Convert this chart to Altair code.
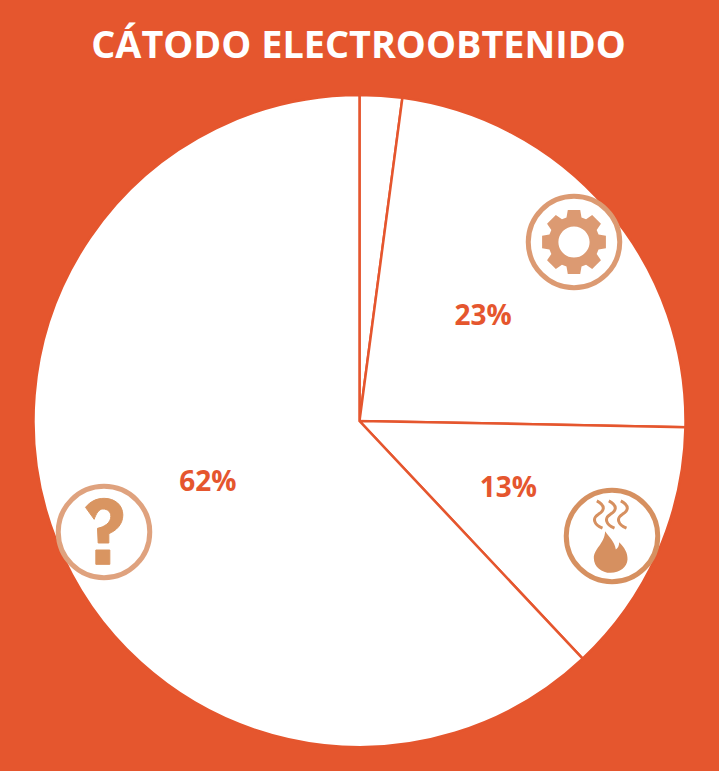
import math
import re
import altair as alt
import pandas as pd

TITLE = "CÁTODO ELECTROOBTENIDO"
shares = [2.1, 23.2, 12.7, 62.0]
labels = ["", "23%", "13%", "62%"]
slice_order = [0, 1, 2, 3]

ORANGE = "#E5562E"
GEAR = "#DC9A72"
HEAT = "#D69060"
QUES_RING = "#DFA27E"
QUES = "#D99561"
CX, CY = 359.5, 421


def scale_pairs(path, zx, zy, unit):
    """Map pixel-crop path coordinates onto the [-1, 1] square of a custom symbol."""
    def repl(m):
        x = (float(m.group(1)) - zx) / 3 / unit
        y = (float(m.group(2)) - zy) / 3 / unit
        return f"{x:.4f} {y:.4f}"
    return re.sub(r"(-?\d+\.?\d*) (-?\d+\.?\d*)", repl, path)


def gear_path(teeth=8, tip=1.0, root=0.79, hole=0.48):
    pts = []
    for k in range(teeth):
        a = math.radians(k * 360 / teeth - 90)
        for da, r in [(-17, root), (-11, tip), (11, tip), (17, root)]:
            t = a + math.radians(da)
            pts.append((r * math.cos(t), r * math.sin(t)))
    d = "M" + " L".join(f"{x:.4f} {y:.4f}" for x, y in pts) + " Z "
    d += f"M{hole} 0 A{hole} {hole} 0 1 0 {-hole} 0 A{hole} {hole} 0 1 0 {hole} 0 Z"
    return d


squiggle = "M125 62 C152 76 148 92 130 102 C110 114 116 134 142 144"
steam_parts = []
for shift in (0, 36, 72):
    nums = re.findall(r"[A-Z]|\d+ \d+", squiggle)
    out = []
    for tok in nums:
        if tok.isalpha():
            out.append(tok)
        else:
            a, b = tok.split()
            out.append(f"{int(a) + shift} {b}")
    steam_parts.append(" ".join(out))
STEAM = scale_pairs(" ".join(steam_parts), 170.5, 167.5, 45)
FLAME = scale_pairs(
    "M150 153 C162 172 178 182 182 208 C190 202 192 194 192 186 "
    "C208 202 218 218 217 238 C216 260 194 278 166 278 C140 278 116 260 116 234 "
    "C116 204 148 192 150 153 Z",
    170.5, 167.5, 45,
)
QMARK = scale_pairs(
    "M122 97 C136 80 154 70 178 70 C210 70 234 90 234 120 C234 150 212 168 192 176 "
    "L192 204 L160 204 L158 160 C178 156 198 144 198 124 C198 110 188 102 174 102 "
    "C162 102 154 116 148 133 Z M153 225 L195 225 L195 268 L153 268 Z",
    177.5, 171, 45,
)

df = pd.DataFrame({"share": shares, "label": labels, "slice": slice_order})
one = pd.DataFrame({"title": [TITLE]})

base = alt.Chart(df)
arcs = base.mark_arc(outerRadius=326, fill="white", stroke=ORANGE, strokeWidth=2.5).encode(
    theta=alt.Theta("share:Q", stack=True, scale=alt.Scale(range=[0, 2 * math.pi])),
    order=alt.Order("slice:O"),
    x=alt.value(CX),
    y=alt.value(CY),
)
pct = base.mark_text(
    radius=163, dy=2, font="Open Sans", fontWeight="bold", fontSize=28, color=ORANGE
).encode(
    theta=alt.Theta("share:Q", stack=True, scale=alt.Scale(range=[0, 2 * math.pi])),
    order=alt.Order("slice:O"),
    text="label:N",
    x=alt.value(CX),
    y=alt.value(CY),
)
title = alt.Chart(one).mark_text(
    font="Open Sans", fontWeight="bold", fontSize=37.8, color="white"
).encode(text="title:N", x=alt.value(358.5), y=alt.value(46.5))


def icon(x, y, diameter, **mark):
    return alt.Chart(one).mark_point(size=diameter ** 2, opacity=1, **mark).encode(
        x=alt.value(x), y=alt.value(y)
    )


def ring(x, y, color):
    return icon(x, y, 91.5, shape="circle", filled=False, stroke=color, strokeWidth=5)


layers = [
    arcs,
    pct,
    title,
    ring(574, 242, GEAR),
    icon(574, 242, 65, shape=gear_path(), filled=True, fill=GEAR, strokeWidth=0),
    ring(612, 536, HEAT),
    icon(612, 536, 90, shape=STEAM, filled=False, stroke=HEAT, strokeWidth=3),
    icon(612, 536, 90, shape=FLAME, filled=True, fill=HEAT, strokeWidth=0),
    ring(104, 532, QUES_RING),
    icon(104, 532, 90, shape=QMARK, filled=True, fill=QUES, stroke=QUES, strokeWidth=1),
]

chart = alt.layer(*layers).properties(
    width=719,
    height=771,
    padding=0,
    background=ORANGE,
    autosize=alt.AutoSizeParams(type="none"),
).configure_view(stroke=None)

chart.save(
    "out.html",
    embed_options={
        "renderer": "svg",
        "actions": False,
        "defaultStyle": f"html,body{{margin:0;background:{ORANGE};overflow:hidden}}",
    },
)
